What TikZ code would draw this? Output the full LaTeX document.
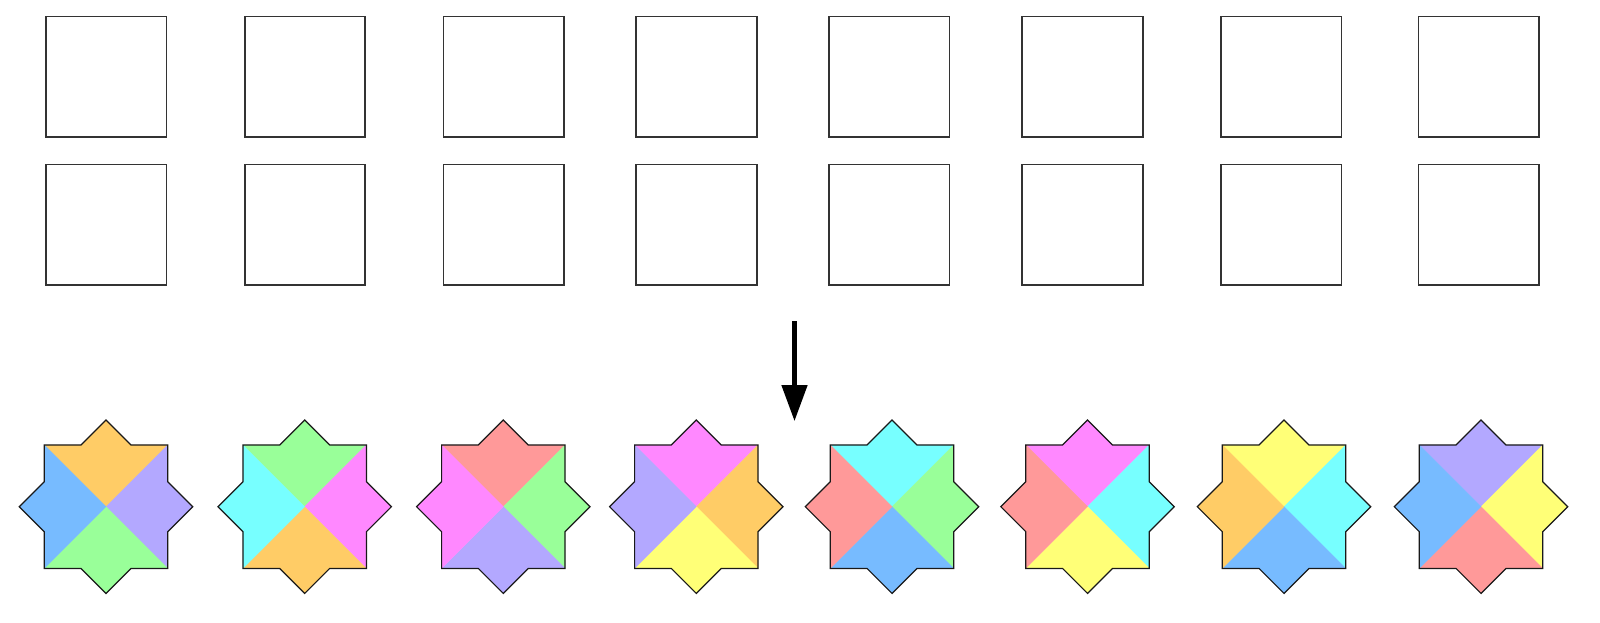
\documentclass[tikz,border=0pt]{standalone}
\definecolor{cblue}{HTML}{77BBFF}
\definecolor{corange}{HTML}{FFCC66}
\definecolor{cpurple}{HTML}{B3A8FF}
\definecolor{cgreen}{HTML}{99FF99}
\definecolor{ccyan}{HTML}{77FFFF}
\definecolor{cmagenta}{HTML}{FF88FF}
\definecolor{cpink}{HTML}{FF9999}
\definecolor{cyellow}{HTML}{FFFF77}
\newcommand\octstar[5]{%
  \begin{scope}[shift={(#1,506.7)}]
    \filldraw[fill=#2,draw=#2,line width=0.3pt] (0,0) -- (-61.7,-61.7) -- (-25,-61.7) -- (0,-86.7) -- (25,-61.7) -- (61.7,-61.7) -- cycle;
    \filldraw[fill=#3,draw=#3,line width=0.3pt] (0,0) -- (61.7,-61.7) -- (61.7,-25) -- (86.7,0) -- (61.7,25) -- (61.7,61.7) -- cycle;
    \filldraw[fill=#4,draw=#4,line width=0.3pt] (0,0) -- (61.7,61.7) -- (25,61.7) -- (0,86.7) -- (-25,61.7) -- (-61.7,61.7) -- cycle;
    \filldraw[fill=#5,draw=#5,line width=0.3pt] (0,0) -- (-61.7,61.7) -- (-61.7,25) -- (-86.7,0) -- (-61.7,-25) -- (-61.7,-61.7) -- cycle;
    \draw[staredge] (-61.7,-61.7) -- (-25,-61.7) -- (0,-86.7) -- (25,-61.7) -- (61.7,-61.7) -- (61.7,-25) -- (86.7,0) -- (61.7,25) -- (61.7,61.7) -- (25,61.7) -- (0,86.7) -- (-25,61.7) -- (-61.7,61.7) -- (-61.7,25) -- (-86.7,0) -- (-61.7,-25) -- cycle;
  \end{scope}}
\begin{document}
\begin{tikzpicture}[x=1pt,y=-1pt,
  cell/.style={draw=black!80,line width=1.8pt,fill=white,minimum size=120.5pt,inner sep=0pt,outer sep=0pt},
  staredge/.style={draw=black!90,line width=1.2pt,line join=miter}]
\useasboundingbox[fill=white] (0,0) rectangle (1600,622);
% top row
\node[cell] (a1) at (106.3,76.7) {};
\node[cell] (a2) at (305,76.7) {};
\node[cell] (a3) at (503.7,76.7) {};
\node[cell] (a4) at (696.5,76.7) {};
\node[cell] (a5) at (889.2,76.7) {};
\node[cell] (a6) at (1082.5,76.7) {};
\node[cell] (a7) at (1281.3,76.7) {};
\node[cell] (a8) at (1478.7,76.7) {};
% second row
\node[cell] (b1) at (106.3,224.7) {};
\node[cell] (b2) at (305,224.7) {};
\node[cell] (b3) at (503.7,224.7) {};
\node[cell] (b4) at (696.5,224.7) {};
\node[cell] (b5) at (889.2,224.7) {};
\node[cell] (b6) at (1082.5,224.7) {};
\node[cell] (b7) at (1281.3,224.7) {};
\node[cell] (b8) at (1478.7,224.7) {};
% arrow
\coordinate (arrowtop) at (794.5,320.7);
\coordinate (arrowtip) at (794.5,420.7);
\fill[black] (791.7,320.7) rectangle (797.3,386);
\fill[black] (781.3,385) -- (807.7,385) -- (arrowtip) -- cycle;
% stars
\octstar{106}{corange}{cpurple}{cgreen}{cblue}
\octstar{304.7}{cgreen}{cmagenta}{corange}{ccyan}
\octstar{503.3}{cpink}{cgreen}{cpurple}{cmagenta}
\octstar{696.3}{cmagenta}{corange}{cyellow}{cpurple}
\octstar{892}{ccyan}{cgreen}{cblue}{cpink}
\octstar{1087.5}{cmagenta}{ccyan}{cyellow}{cpink}
\octstar{1284}{cyellow}{ccyan}{cblue}{corange}
\octstar{1481}{cpurple}{cyellow}{cpink}{cblue}
\end{tikzpicture}
\end{document}
